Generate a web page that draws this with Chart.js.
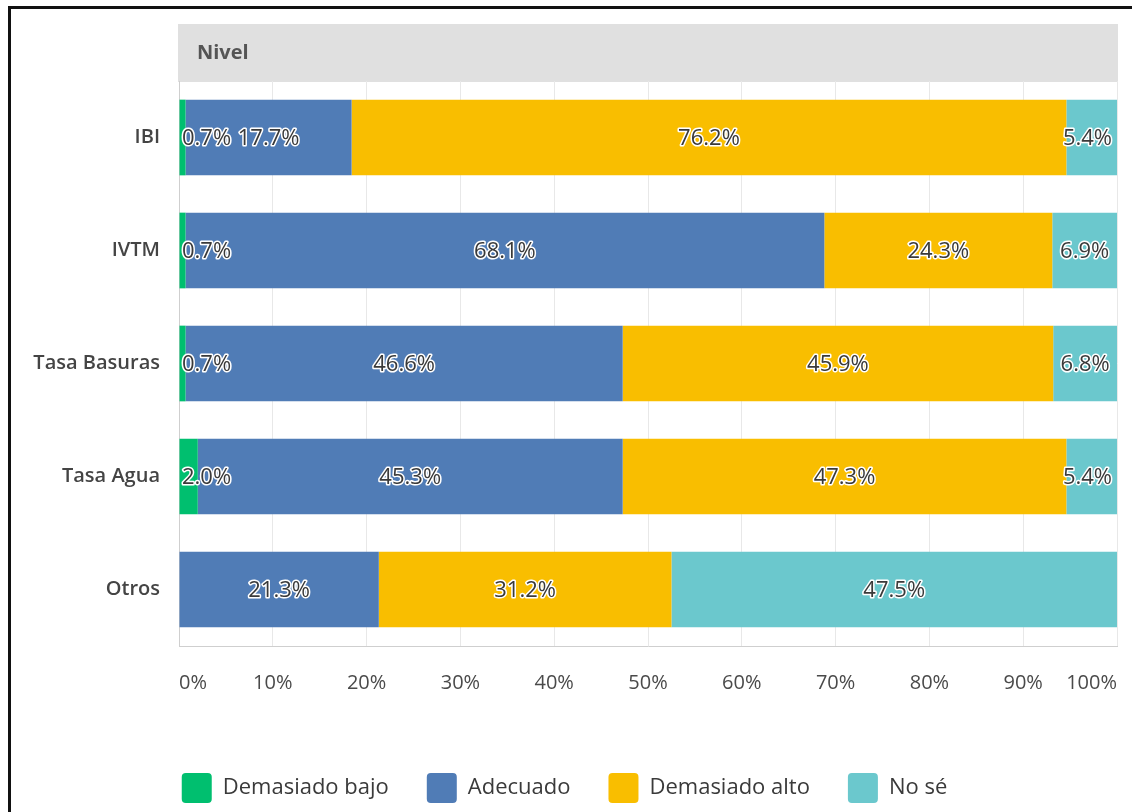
<!DOCTYPE html>
<html lang="es">
<head>
<meta charset="UTF-8">
<title>Nivel</title>
<script src="https://cdn.jsdelivr.net/npm/chart.js"></script>
<style>
    html, body { margin: 0; padding: 0; background: #fff; }
    #wrap { position: relative; width: 1132px; height: 812px; overflow: hidden; }
    #wrap canvas { position: absolute; left: 0; top: 0; }
    .frame-top { position: absolute; left: 8px; top: 6px; right: 0; height: 3px; background: #111; }
    .frame-left { position: absolute; left: 8px; top: 6px; bottom: 0; width: 3px; background: #111; }
</style>
</head>
<body>
<div id="wrap">
    <canvas id="chart" width="1132" height="812"></canvas>
    <div class="frame-top"></div>
    <div class="frame-left"></div>
</div>
<script>
    const categories = ['IBI', 'IVTM', 'Tasa Basuras', 'Tasa Agua', 'Otros'];
    const seriesNames = ['Demasiado bajo', 'Adecuado', 'Demasiado alto', 'No sé'];
    const demasiadoBajo = [0.7, 0.7, 0.7, 2.0, 0];
    const adecuado = [17.7, 68.1, 46.6, 45.3, 21.3];
    const demasiadoAlto = [76.2, 24.3, 45.9, 47.3, 31.2];
    const noSe = [5.4, 6.9, 6.8, 5.4, 47.5];
    const colors = ['#00bf6f', '#507cb6', '#f9be00', '#6bc8cd'];
    const headerText = 'Nivel';

    const FONT = '"Open Sans", "Noto Sans", sans-serif';

    // grey "Nivel" band above the plot
    const headerBand = {
        id: 'headerBand',
        beforeDraw(chart) {
            const { ctx, chartArea } = chart;
            ctx.save();
            ctx.fillStyle = '#e0e0e0';
            ctx.fillRect(chartArea.left - 1, 24, chartArea.right - chartArea.left + 2, chartArea.top + 1 - 24);
            ctx.fillStyle = '#555';
            ctx.font = 'bold 20px ' + FONT;
            ctx.textBaseline = 'middle';
            ctx.fillText(headerText, chartArea.left + 18, 53);
            ctx.restore();
        }
    };

    // value labels, dark text with white halo, kept inside the plot
    const barLabels = {
        id: 'barLabels',
        afterDatasetsDraw(chart) {
            const { ctx, chartArea } = chart;
            ctx.save();
            ctx.font = '500 22px ' + FONT;
            ctx.textAlign = 'center';
            ctx.textBaseline = 'middle';
            ctx.lineJoin = 'round';
            chart.data.datasets.forEach((ds, i) => {
                const meta = chart.getDatasetMeta(i);
                meta.data.forEach((bar, j) => {
                    const v = ds.data[j];
                    if (!v) return;
                    const txt = v.toFixed(1) + '%';
                    const w = ctx.measureText(txt).width;
                    const l = Math.min(bar.x, bar.base), r = Math.max(bar.x, bar.base);
                    let cx = (l + r) / 2;
                    cx = Math.max(cx, chartArea.left + w / 2 + 3);
                    cx = Math.min(cx, chartArea.right - w / 2 - 5);
                    ctx.strokeStyle = '#fff';
                    ctx.lineWidth = 3;
                    ctx.strokeText(txt, cx, bar.y + 1);
                    ctx.fillStyle = '#3a3a3a';
                    ctx.fillText(txt, cx, bar.y + 1);
                });
            });
            ctx.restore();
        }
    };

    const values = [demasiadoBajo, adecuado, demasiadoAlto, noSe];

    new Chart(document.getElementById('chart'), {
        type: 'bar',
        data: {
            labels: categories,
            datasets: seriesNames.map((name, i) => ({
                label: name,
                data: values[i],
                backgroundColor: colors[i],
                borderWidth: 0,
                categoryPercentage: 1,
                barPercentage: 0.67
            }))
        },
        options: {
            indexAxis: 'y',
            responsive: false,
            animation: false,
            layout: { padding: { left: 12, right: 15, top: 81, bottom: 0 } },
            scales: {
                x: {
                    stacked: true,
                    min: 0,
                    max: 100,
                    grid: { color: '#e8e8e8', tickLength: 21, tickColor: 'rgba(0,0,0,0)' },
                    border: { color: '#cfcfcf' },
                    ticks: {
                        stepSize: 10,
                        align: 'inner',
                        padding: 4,
                        color: '#4a4a4a',
                        font: { family: FONT, size: 20 },
                        callback: v => v + '%'
                    },
                    afterFit(scale) { scale.height = 89; }
                },
                y: {
                    stacked: true,
                    grid: { display: false },
                    border: { color: '#cfcfcf' },
                    ticks: {
                        padding: 11,
                        color: '#444',
                        font: { family: FONT, size: 20, weight: 600 }
                    },
                    afterFit(scale) { scale.width = 167; }
                }
            },
            plugins: {
                legend: {
                    position: 'bottom',
                    maxHeight: 77,
                    labels: {
                        boxWidth: 30,
                        boxHeight: 30,
                        padding: 38,
                        useBorderRadius: true,
                        borderRadius: 4,
                        color: '#3a3a3a',
                        font: { family: FONT, size: 22 }
                    }
                },
                tooltip: { enabled: false }
            }
        },
        plugins: [headerBand, barLabels]
    });
</script>
</body>
</html>
